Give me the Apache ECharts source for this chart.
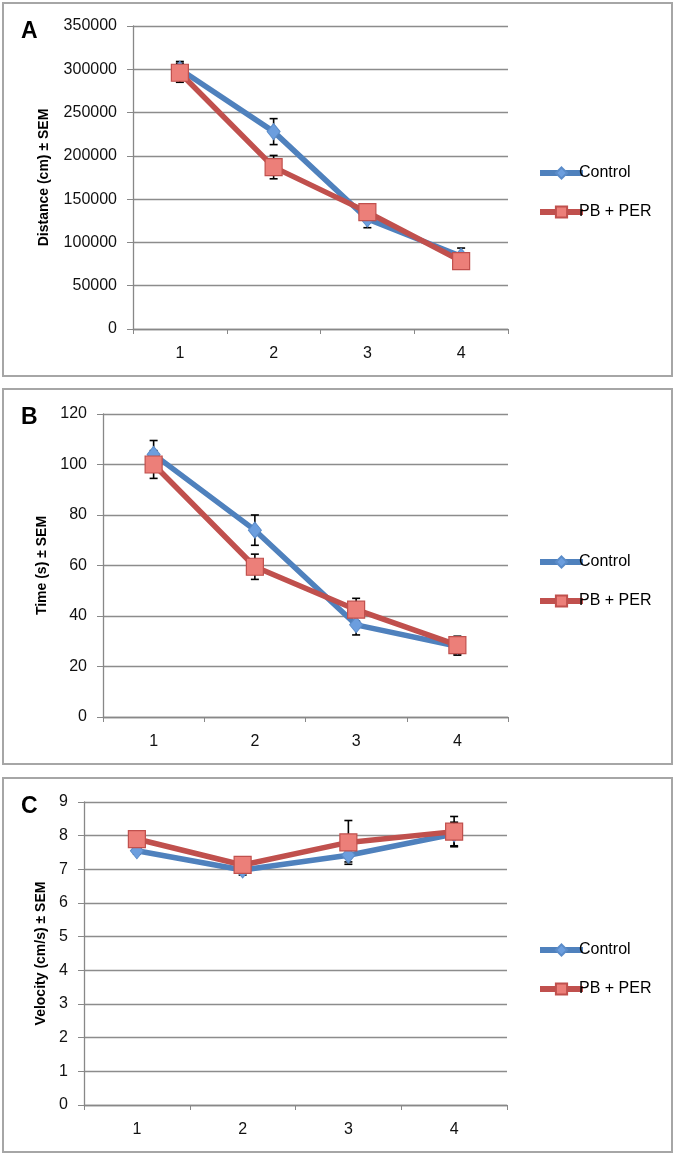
<!doctype html>
<html lang="en">
  <head>
    <meta charset="utf-8">
    <script src="https://cdn.jsdelivr.net/npm/echarts@6/dist/echarts.min.js"></script>
    <title>Distance, time and velocity</title>
    <style>
      html, body { margin: 0; padding: 0; background: #fff; }
      #container { width: 676px; height: 1154px; }
    </style>
  </head>
  <body>
    <div id="container"></div>
    <script type="text/javascript">
      // categories (days)
      var days = ['1', '2', '3', '4'];
      var seriesNames = ['Control', 'PB + PER'];

      // A: distance (cm) +- SEM
      var distControl = [300000, 228000, 127000, 84000];
      var distControlSem = [9000, 15000, 10000, 9500];
      var distPb = [296000, 187000, 135000, 78500];
      var distPbSem = [11000, 13500, 9000, 6000];

      // B: time (s) +- SEM
      var timeControl = [104, 74, 36.5, 28];
      var timeControlSem = [5.5, 6, 4, 3.5];
      var timePb = [100, 59.5, 42.5, 28.5];
      var timePbSem = [5.5, 5, 4.5, 3.5];

      // C: velocity (cm/s) +- SEM
      var velControl = [7.55, 6.98, 7.42, 8.05];
      var velControlSem = [0.1, 0.15, 0.2, 0.35];
      var velPb = [7.9, 7.13, 7.8, 8.12];
      var velPbSem = [0.1, 0.1, 0.65, 0.45];

      var blue = '#4f81bd', red = '#c0504d';
      var font = 'Liberation Sans';

      function errData(vals, sems) {
        return vals.map(function (v, i) { return [i, v - sems[i], v + sems[i]]; });
      }

      function errorBar(params, api) {
        var x = api.value(0);
        var top = api.coord([x, api.value(2)]);
        var bot = api.coord([x, api.value(1)]);
        var w = 4;
        var st = { stroke: '#000', lineWidth: 1.6 };
        return {
          type: 'group',
          children: [
            { type: 'line', shape: { x1: top[0], y1: top[1], x2: bot[0], y2: bot[1] }, style: st },
            { type: 'line', shape: { x1: top[0] - w, y1: top[1], x2: top[0] + w, y2: top[1] }, style: st },
            { type: 'line', shape: { x1: bot[0] - w, y1: bot[1], x2: bot[0] + w, y2: bot[1] }, style: st }
          ]
        };
      }

      var panels = [
        { letter: 'A', top: 26, left: 133, right: 168, max: 350000, interval: 50000,
          title: 'Distance (cm) ± SEM', gap: 82, ctrl: distControl, ctrlSem: distControlSem,
          pb: distPb, pbSem: distPbSem, box: [3, 3, 669, 373], legendTop: 165 },
        { letter: 'B', top: 414, left: 103, right: 168, max: 120, interval: 20,
          title: 'Time (s) ± SEM', gap: 51, ctrl: timeControl, ctrlSem: timeControlSem,
          pb: timePb, pbSem: timePbSem, box: [3, 389, 669, 375], legendTop: 554 },
        { letter: 'C', top: 802, left: 84, right: 169, max: 9, interval: 1,
          title: 'Velocity (cm/s) ± SEM', gap: 33, ctrl: velControl, ctrlSem: velControlSem,
          pb: velPb, pbSem: velPbSem, box: [3, 778, 669, 374], legendTop: 942 }
      ];

      var grid = [], xAxis = [], yAxis = [], series = [], legend = [], graphic = [];

      panels.forEach(function (p, k) {
        grid.push({ left: p.left, right: p.right, top: p.top, height: 303 });
        xAxis.push({
          type: 'category', gridIndex: k, data: days,
          axisLine: { lineStyle: { color: '#888', width: 1.3 } },
          axisTick: { show: true, length: 5, lineStyle: { color: '#888' } },
          axisLabel: { color: '#111', fontSize: 16, fontFamily: font, margin: 17 }
        });
        yAxis.push({
          type: 'value', gridIndex: k, min: 0, max: p.max, interval: p.interval,
          name: p.title, nameLocation: 'middle', nameRotate: 90, nameGap: p.gap,
          nameTextStyle: { color: '#000', fontSize: 14, fontWeight: 'bold', fontFamily: font },
          axisLine: { show: true, lineStyle: { color: '#888', width: 1.3 } },
          axisTick: { show: true, length: 6, lineStyle: { color: '#888' } },
          splitLine: { lineStyle: { color: '#8c8c8c', width: 1.3 } },
          axisLabel: { color: '#111', fontSize: 16, fontFamily: font, margin: 16,
            formatter: function (v) { return String(v); } }
        });
        series.push({
          type: 'custom', xAxisIndex: k, yAxisIndex: k, renderItem: errorBar,
          data: errData(p.ctrl, p.ctrlSem), encode: { x: 0, y: [1, 2] }, z: 1, silent: true
        });
        series.push({
          type: 'custom', xAxisIndex: k, yAxisIndex: k, renderItem: errorBar,
          data: errData(p.pb, p.pbSem), encode: { x: 0, y: [1, 2] }, z: 1, silent: true
        });
        series.push({
          name: seriesNames[0], type: 'line', xAxisIndex: k, yAxisIndex: k, data: p.ctrl,
          symbol: 'diamond', symbolSize: [13, 16], z: 3,
          lineStyle: { color: blue, width: 5.5 },
          itemStyle: { color: '#6c9ede', borderColor: '#5b8cc9', borderWidth: 1 }
        });
        series.push({
          name: seriesNames[1], type: 'line', xAxisIndex: k, yAxisIndex: k, data: p.pb,
          symbol: 'rect', symbolSize: 17, z: 4,
          lineStyle: { color: red, width: 5.5 },
          itemStyle: { color: '#ec7f79', borderColor: '#c0504d', borderWidth: 1.2 }
        });
        legend.push({
          orient: 'vertical', left: 537, top: p.legendTop, itemGap: 23, padding: 0,
          itemWidth: 43, itemHeight: 14, selectedMode: false,
          lineStyle: { width: 6 },
          textStyle: { color: '#000', fontSize: 16, fontFamily: font, padding: [0, 0, 0, -9] },
          data: seriesNames
        });
        graphic.push({
          type: 'rect', shape: { x: p.box[0], y: p.box[1], width: p.box[2], height: p.box[3] },
          style: { fill: 'none', stroke: '#a6a6a6', lineWidth: 2 }, z: -1
        });
        graphic.push({
          type: 'text', left: 21, top: p.box[1] + 17,
          style: { text: p.letter, fill: '#000', font: 'bold 23px ' + font }
        });
      });

      var myChart = echarts.init(document.getElementById('container'));
      myChart.setOption({
        animation: false,
        grid: grid,
        xAxis: xAxis,
        yAxis: yAxis,
        legend: legend,
        graphic: graphic,
        series: series
      });
    </script>
  </body>
</html>
